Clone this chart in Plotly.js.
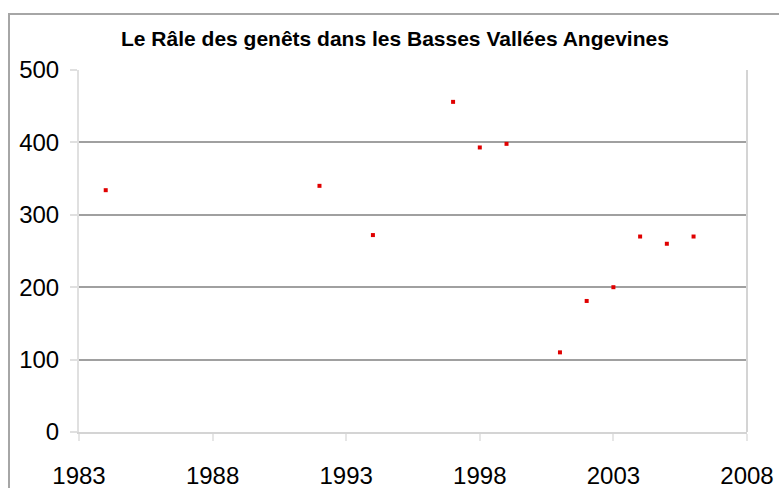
<!DOCTYPE html>
<html>
<head>
<meta charset="utf-8">
<script src="https://cdn.plot.ly/plotly-3.0.1.min.js"></script>
<style>
  html, body { margin: 0; padding: 0; background: #fff; }
  #wrap { position: relative; width: 779px; height: 488px; overflow: hidden; }
  #chart { width: 779px; height: 488px; }
  #frame { position: absolute; left: 8px; top: 13px; width: 900px; height: 600px;
           border-top: 2px solid #a6a6a6; border-left: 2px solid #a6a6a6; pointer-events: none; }
</style>
</head>
<body>
<div id="wrap">
  <div id="chart"></div>
  <div id="frame"></div>
</div>
<script>
const years = [1984, 1992, 1994, 1997, 1998, 1999, 2001, 2002, 2003, 2004, 2005, 2006];
const counts = [334, 340, 272, 456, 393, 398, 110, 181, 200, 270, 260, 270];
const xTicks = [1983, 1988, 1993, 1998, 2003, 2008];
const yTicks = [0, 100, 200, 300, 400, 500];
const titleText = 'Le Râle des genêts dans les Basses Vallées Angevines';

const tickFont = { family: 'Liberation Sans, Arial, sans-serif', size: 24, color: '#000' };

const trace = {
  x: years, y: counts, type: 'scatter', mode: 'markers',
  marker: { symbol: 'square', size: 4, color: '#e00000', line: { width: 0 } },
  hoverinfo: 'x+y'
};

const layout = {
  width: 779, height: 488,
  margin: { l: 79, r: 32, t: 70, b: 56, pad: 0 },
  paper_bgcolor: '#fff', plot_bgcolor: '#fff',
  showlegend: false,
  title: {
    text: titleText,
    font: { family: 'Liberation Sans, Arial, sans-serif', size: 21, color: '#000', weight: 'bold' },
    x: 0.473, xanchor: 'center', xref: 'paper',
    y: 1 - 39 / 488, yanchor: 'middle', yref: 'container'
  },
  xaxis: {
    range: [1983, 2008], tickvals: xTicks, ticktext: xTicks.map(String),
    showgrid: false, zeroline: false,
    showline: true, linecolor: '#d4d4d4', linewidth: 2,
    ticks: 'outside', ticklen: 7, tickcolor: '#e6e6e6', tickwidth: 2,
    tickfont: tickFont, ticklabelstandoff: 14, fixedrange: true
  },
  yaxis: {
    range: [0, 500], tickvals: yTicks, ticktext: yTicks.map(String),
    showgrid: true, gridcolor: '#a0a0a0', gridwidth: 2,
    zeroline: false,
    showline: true, linecolor: '#e0e0e0', linewidth: 2,
    ticks: 'outside', ticklen: 7, tickcolor: '#e0e0e0', tickwidth: 2,
    tickfont: tickFont, ticklabelstandoff: 6, fixedrange: true
  },
  shapes: [
    { type: 'line', xref: 'paper', yref: 'paper', x0: 1, x1: 1, y0: 0, y1: 1,
      line: { color: '#d4d4d4', width: 2 }, layer: 'above' }
  ]
};

Plotly.newPlot('chart', [trace], layout, { staticPlot: true, displayModeBar: false });
</script>
</body>
</html>
